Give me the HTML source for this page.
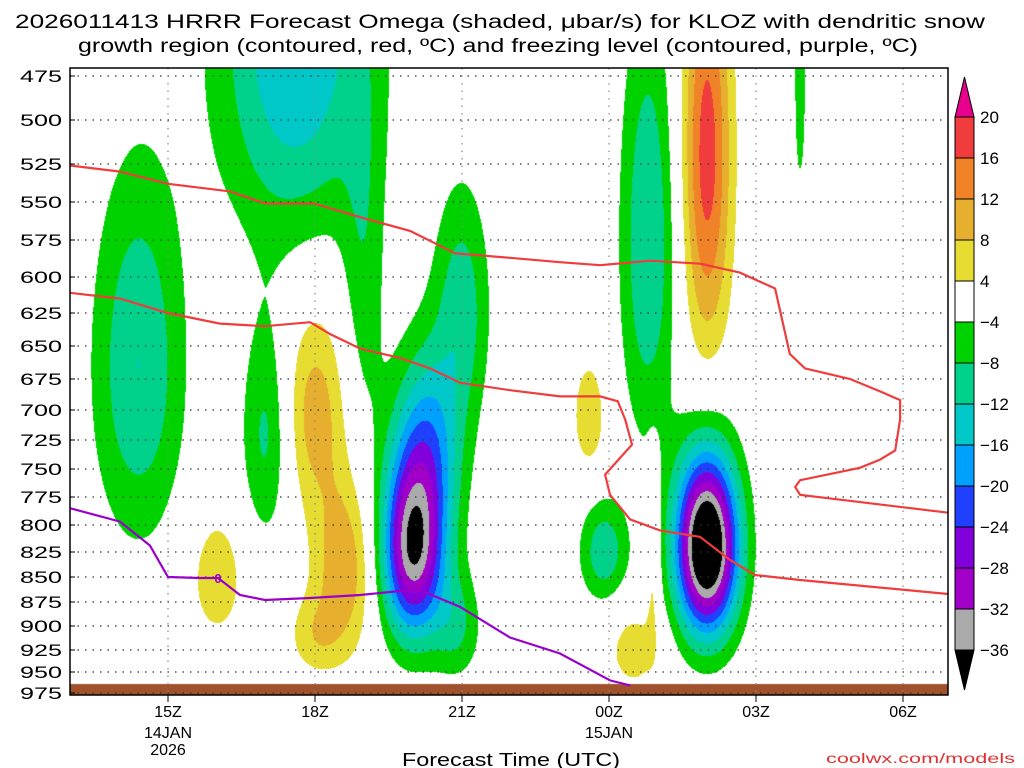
<!DOCTYPE html>
<html><head><meta charset="utf-8"><style>
body{margin:0;background:#fff;width:1024px;height:768px;overflow:hidden;position:relative;font-family:"Liberation Sans",sans-serif}
#c{position:absolute;left:0;top:0}
svg{position:absolute;left:0;top:0}
</style></head><body>
<canvas id="c" width="1024" height="768"></canvas>
<svg id="s" width="1024" height="768"></svg>
<script>
// ---- data ----
const pLevels=[475,500,525,550,575,600,625,650,675,700,725,750,775,800,825,850,875,900,925,950,975];
const xTickHours=[0,3,6,9,12,15];
const xTickLabels=["15Z","18Z","21Z","00Z","03Z","06Z"];
const cbLevels=[20,16,12,8,4,-4,-8,-12,-16,-20,-24,-28,-32,-36];
const cbColors=["#f03c3c","#f08228","#e6af2d","#e6dc32","#ffffff","#00d200","#00d28c","#00c8c8","#00a0ff","#2040ff","#8200dc","#a000c8","#aaaaaa"];
// omega blobs: [hour from 15Z, pressure, sigmaT(h), sigmaP(mb), amplitude]
const blobT=[-0.6,2.6,4.0,2.0,1.0,3.0,3.6,3.0,5.0,5.3,6.0,5.9,8.6,8.9,9.5,9.9,9.8,11.0,11.0,12.9];
const blobP=[665,455,600,720,850,700,840,910,825,730,620,900,705,825,925,830,575,520,820,480];
const blobST=[0.65,1.1,0.3,0.35,0.4,0.45,0.45,0.4,0.45,0.5,0.4,0.35,0.25,0.35,0.4,0.1,0.4,0.35,0.45,0.12];
const blobSP=[100,80,90,65,45,60,60,30,60,60,60,40,35,35,35,60,100,90,60,60];
const blobA=[-12,-16,-6,-9,7,10,11,6,-34,-16,-10,-8,7,-11,6,6,-12,18,-46,-5.5];
// contours
const redUpT=[-2,-0.98,0,1.27,1.98,2.98,3.92,4.94,5.86,6.98,8,8.82,9.84,10.86,11.67,12.39,12.69,13,13.92,14.53,14.94,14.94,14.84,14.53,14.12,12.9,12.8,12.9,15.92];
const redUpP=[526,530,538,543,551,551,560,569,584,587,590,592,589,591,597,608,656,667,675,685,692,708,734,742,749,760,766,773,789];
const redLoT=[-2,-0.98,0,1.06,1.98,2.9,3.31,3.92,4.73,5.35,5.96,6.98,8,8.82,9.18,9.33,9.47,8.92,9.02,9.43,10.04,10.86,11.47,11.98,12.9,15.92];
const redLoP=[611,615,625,633,635,632,641,652,659,667,678,684,689,689,693,708,729,755,773,795,805,811,833,848,853,867];
const purT=[-2,-0.98,-0.37,0,0.65,1.02,1.47,1.98,2.9,3.92,4.73,5.14,5.96,6.98,8,9.02,9.43];
const purP=[785,797,819,850,851,851,868,873,871,868,864,863,880,912,929,960,966];
// ---- axes ----
const pY=[76,120,164,202,240,277,313,346,379,410,440,469,497,525,552,577,602,626,650,672,693];
const L=70,R=948,T=68,B=695;
function X(h){return 168+49*h;}
function Y(p){
  if(p<=pLevels[0])return pY[0]+(p-pLevels[0])*(44/25);
  for(let i=1;i<pLevels.length;i++){if(p<=pLevels[i]){const f=(p-pLevels[i-1])/25;return pY[i-1]+f*(pY[i]-pY[i-1]);}}
  return pY[pY.length-1]+(p-975)*(21/25);
}
function invY(y){
  if(y<=pY[0])return 475+(y-pY[0])*25/44;
  for(let i=1;i<pY.length;i++){if(y<=pY[i]){return pLevels[i-1]+25*(y-pY[i-1])/(pY[i]-pY[i-1]);}}
  return 975+(y-693)*25/21;
}
function colorFor(v){
  if(v>=20)return "#e6008c";
  if(v<-36)return "#000000";
  for(let i=0;i<cbLevels.length-1;i++){if(v>=cbLevels[i+1])return cbColors[i];}
  return "#aaaaaa";
}
// ---- shading ----
const ctx=document.getElementById('c').getContext('2d');
for(let y=T;y<B;y++){
  const p=invY(y+0.5);
  for(let x=L;x<R;x++){
    const h=(x+0.5-168)/49;let v=0;
    for(let k=0;k<blobA.length;k++){
      const dt=(h-blobT[k])/blobST[k],dp=(p-blobP[k])/blobSP[k];
      const e=dt*dt+dp*dp; if(e<30)v+=blobA[k]*Math.exp(-0.5*e);
    }
    const c=colorFor(v);
    if(c!=="#ffffff"){ctx.fillStyle=c;ctx.fillRect(x,y,1,1);}
  }
}
// ground
ctx.fillStyle="#a0522d";ctx.fillRect(L,684,R-L,B-684);
// ---- svg ----
const NS="http://www.w3.org/2000/svg";const s=document.getElementById('s');
function el(t,a,parent){const e=document.createElementNS(NS,t);for(const k in a)e.setAttribute(k,a[k]);(parent||s).appendChild(e);return e;}
pLevels.forEach((p,i)=>{
  const g=el('line',{x1:L,x2:R,y1:Y(p),y2:Y(p),stroke:"#333","stroke-width":1.2,"stroke-dasharray":"1.5,6"});
  
  
  const tk=el('line',{x1:L,x2:L+5,y1:Y(p),y2:Y(p),stroke:"#000"});
  
  
  const t=el('text',{x:L-8,y:Y(p)+6,"text-anchor":"end","font-size":17,fill:"#000",textLength:42,lengthAdjust:"spacingAndGlyphs"});t.textContent=p;
  
  
});
xTickHours.forEach((h,i)=>{
  const g=el('line',{x1:X(h),x2:X(h),y1:T,y2:B,stroke:"#888","stroke-width":1.2,"stroke-dasharray":"1.5,6"});
  
  
  const tk=el('line',{x1:X(h),x2:X(h),y1:B,y2:B+7,stroke:"#000"});
  
  
  const t=el('text',{x:X(h),y:B+22,"text-anchor":"middle","font-size":16});t.textContent=xTickLabels[i];
  
  
});
[["14JAN",X(0),738],["2026",X(0),755],["15JAN",X(9),738]].forEach(d=>{
  const t=el('text',{x:d[1],y:d[2],"text-anchor":"middle","font-size":16});t.textContent=d[0];
  
  
});
function line(Ts,Ps,col,name){
  const pts=Ts.map((t,i)=>X(t).toFixed(1)+","+Y(Ps[i]).toFixed(1)).join(" ");
  const e=el('polyline',{points:pts,fill:"none",stroke:col,"stroke-width":2.2});
  
  
}
line(redUpT,redUpP,"#f03c3c","dgz-contour-upper");
line(redLoT,redLoP,"#f03c3c","dgz-contour-lower");
line(purT,purP,"#9a00cc","freezing-level-contour");
const pl=el('text',{x:X(1.02),y:Y(851)+5,"text-anchor":"middle","font-size":13,fill:"#9a00cc","font-weight":"bold"});pl.textContent="0";


const fr=el('rect',{x:L,y:T,width:R-L,height:B-T,fill:"none",stroke:"#000","stroke-width":1.5});


// colorbar
const cbX=955,cbW=19,cbTop=117,cbStep=41;
const cb=el('g',{});
el('polygon',{points:`${cbX},${cbTop} ${cbX+cbW},${cbTop} ${cbX+cbW/2},77`,fill:"#e6008c",stroke:"#000"},cb);
cbColors.forEach((c,i)=>{
  const r=el('rect',{x:cbX,y:cbTop+i*cbStep,width:cbW,height:cbStep,fill:c,stroke:"#000"},cb);
  
  
});
const bot=cbTop+(cbLevels.length-1)*cbStep;
el('polygon',{points:`${cbX},${bot} ${cbX+cbW},${bot} ${cbX+cbW/2},690`,fill:"#000",stroke:"#000"},cb);
cbLevels.forEach((v,i)=>{
  const t=el('text',{x:980,y:cbTop+i*cbStep+6,"font-size":17},cb);t.textContent=v<0?"\u2212"+(-v):v;
  
  
});
// titles
const t1=el('text',{x:15,y:28,"font-size":19,textLength:970,lengthAdjust:"spacingAndGlyphs"});t1.textContent="2026011413 HRRR Forecast Omega (shaded, \u03bcbar/s) for KLOZ with dendritic snow";

const t2=el('text',{x:78,y:52,"font-size":19,textLength:840,lengthAdjust:"spacingAndGlyphs"});t2.textContent="growth region (contoured, red, \u00baC) and freezing level (contoured, purple, \u00baC)";

const xt=el('text',{x:402,y:766,"font-size":18,textLength:218,lengthAdjust:"spacingAndGlyphs"});xt.textContent="Forecast Time (UTC)";

const cr=el('text',{x:826,y:763,"font-size":14,fill:"#e03030",textLength:189,lengthAdjust:"spacingAndGlyphs"});cr.textContent="coolwx.com/models";

</script>
</body></html>
